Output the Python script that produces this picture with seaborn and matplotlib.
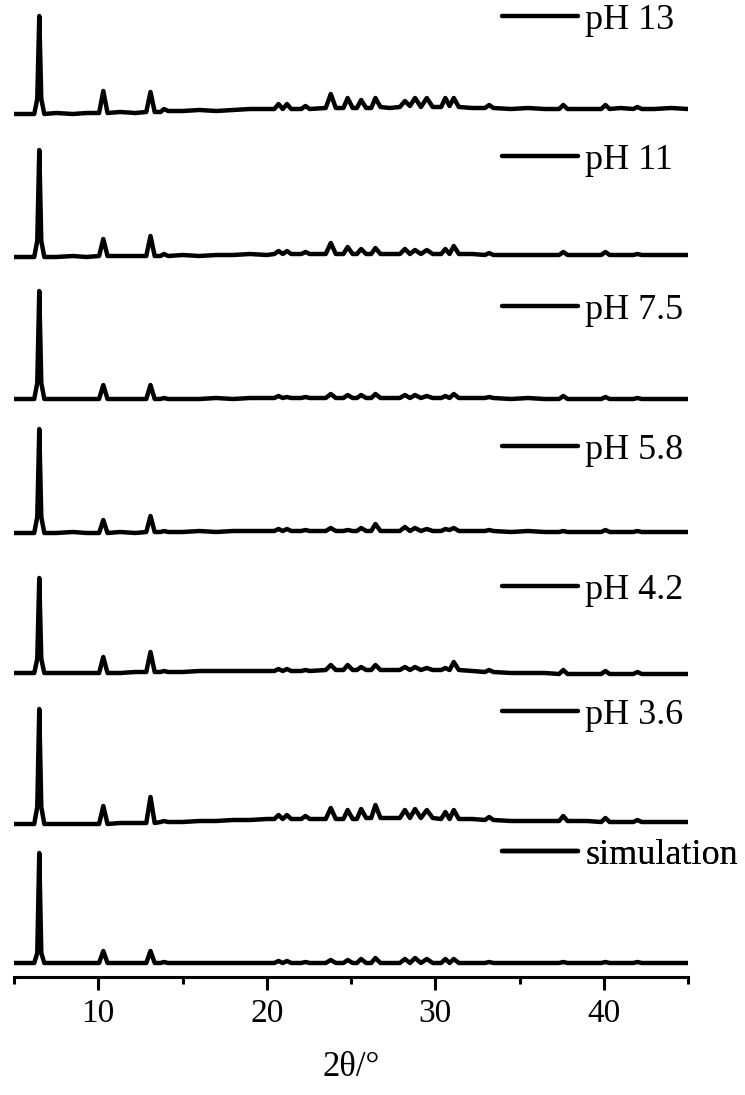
import numpy as np
import pandas as pd
import matplotlib
matplotlib.use("Agg")
import matplotlib.pyplot as plt
from matplotlib.ticker import MultipleLocator
import seaborn as sns

# 2theta vertices (shared by all traces)
two_theta = [5.0, 5.8, 6.2, 6.38, 6.5, 6.62, 6.8, 7.5, 8.5, 9.3,
             10.05, 10.3, 10.55, 11.3, 12.2, 12.85, 13.1, 13.35, 13.7, 13.9,
             14.15, 15.0, 16.0, 17.0, 18.0, 19.0, 20.0, 20.45, 20.7, 20.95,
             21.2, 21.45, 22.05, 22.3, 22.55, 23.5, 23.8, 24.1, 24.55, 24.8,
             25.1, 25.35, 25.6, 25.9, 26.2, 26.45, 26.75, 27.3, 27.9, 28.2,
             28.5, 28.8, 29.15, 29.5, 29.85, 30.35, 30.6, 30.85, 31.1, 31.4,
             32.2, 32.95, 33.2, 33.45, 34.5, 35.5, 36.5, 37.35, 37.6, 37.85,
             39.0, 39.85, 40.1, 40.35, 41.0, 41.75, 42.0, 42.25, 43.0, 44.0,
             45.0]

# intensities (a.u., above each trace's own baseline)
ph13 = [0, 0, 0, 15, 98, 15, 0, 1, 0, 1,
        1, 23, 1, 2, 1, 2, 22, 2, 2, 5,
        3, 3, 4, 3, 4, 5, 5, 5, 10, 5,
        10, 5, 5, 8, 5, 6, 20, 6, 6, 16,
        6, 6, 14, 6, 6, 16, 7, 6, 7, 13,
        8, 16, 7, 16, 7, 7, 16, 8, 16, 7,
        6, 6, 9, 6, 5, 6, 5, 5, 9, 5,
        5, 5, 9, 5, 6, 5, 7, 5, 5, 6,
        5]
ph11 = [0, 0, 0, 16, 107, 16, 0, 0, 1, 0,
        1, 18, 1, 1, 1, 1, 21, 1, 1, 3,
        1, 2, 1, 2, 2, 3, 2, 3, 6, 3,
        6, 3, 3, 5, 3, 3, 14, 3, 3, 10,
        3, 3, 8, 3, 3, 9, 3, 3, 3, 8,
        3, 7, 3, 7, 3, 3, 8, 3, 11, 3,
        3, 2, 4, 2, 2, 2, 2, 2, 5, 2,
        2, 2, 5, 2, 2, 2, 3, 2, 2, 2,
        2]
ph75 = [0, 0, 0, 16, 108, 16, 0, 0, 0, 0,
        0, 14, 0, 0, 0, 0, 14, 0, 0, 1,
        0, 0, 0, 1, 0, 1, 1, 1, 3, 1,
        2, 1, 1, 2, 1, 1, 5, 1, 1, 4,
        1, 1, 4, 1, 1, 5, 1, 1, 1, 4,
        1, 4, 1, 3, 1, 1, 3, 1, 5, 1,
        1, 1, 2, 1, 0, 1, 0, 0, 3, 0,
        0, 0, 2, 0, 0, 0, 1, 0, 0, 0,
        0]
ph58 = [0, 0, 0, 16, 104, 16, 0, 0, 1, 0,
        0, 13, 0, 1, 0, 1, 17, 1, 1, 2,
        1, 1, 2, 1, 2, 2, 2, 2, 4, 2,
        4, 2, 2, 3, 2, 2, 5, 2, 2, 3,
        2, 2, 5, 2, 2, 9, 2, 2, 2, 6,
        2, 5, 2, 4, 2, 2, 4, 3, 5, 2,
        2, 2, 3, 2, 1, 2, 1, 1, 2, 1,
        1, 1, 3, 1, 1, 1, 2, 1, 1, 1,
        1]
ph42 = [0, 0, 0, 14, 95, 14, 0, 0, 0, 0,
        0, 16, 0, 0, 1, 1, 21, 1, 1, 2,
        1, 1, 2, 2, 2, 2, 2, 2, 4, 2,
        4, 2, 2, 3, 2, 3, 8, 3, 3, 8,
        3, 3, 6, 3, 3, 8, 3, 3, 3, 6,
        3, 6, 3, 5, 3, 3, 5, 3, 11, 3,
        2, 1, 3, 1, 0, 0, 0, -1, 3, -1,
        -1, -1, 2, -1, -1, -1, 1, -1, -1, -1,
        -1]
ph36 = [0, 0, 0, 17, 115, 17, 0, 0, 0, 0,
        0, 18, 0, 1, 1, 1, 27, 1, 2, 3,
        2, 2, 3, 3, 4, 4, 5, 5, 9, 5,
        9, 5, 5, 8, 5, 5, 16, 5, 5, 14,
        5, 5, 15, 6, 6, 19, 6, 6, 6, 14,
        6, 15, 6, 14, 6, 5, 12, 5, 14, 5,
        5, 4, 7, 4, 3, 3, 3, 3, 8, 3,
        3, 2, 6, 2, 2, 2, 4, 2, 2, 2,
        2]
simulation = [0, 0, 0, 10, 110, 10, 0, 0, 0, 0,
              0, 12, 0, 0, 0, 0, 12, 0, 0, 1,
              0, 0, 0, 0, 0, 0, 0, 0, 2, 0,
              2, 0, 0, 1, 0, 0, 3, 0, 0, 3,
              0, 0, 4, 0, 0, 5, 0, 0, 0, 4,
              0, 5, 0, 4, 0, 0, 4, 0, 4, 0,
              0, 0, 1, 0, 0, 0, 0, 0, 1, 0,
              0, 0, 1, 0, 0, 0, 1, 0, 0, 0,
              0]

labels = ["pH 13", "pH 11", "pH 7.5", "pH 5.8", "pH 4.2", "pH 3.6", "simulation"]
series = [ph13, ph11, ph75, ph58, ph42, ph36, simulation]

# stacking (layout only)
offsets = [863, 720, 578, 444, 304, 153, 14]
legend_y = [957, 817, 667, 527, 387, 262, 122]

sns.set_style("ticks")
plt.rcParams["font.family"] = ["Liberation Serif", "DejaVu Serif"]
plt.rcParams["text.color"] = "black"
plt.rcParams["axes.labelcolor"] = "black"
plt.rcParams["xtick.color"] = "black"
plt.rcParams["axes.edgecolor"] = "black"

fig = plt.figure(figsize=(7.45, 10.95), dpi=100)
ax = fig.add_axes([14 / 745, 1 - 977 / 1095, 674 / 745, 977 / 1095])

for lab, y, off, ly in zip(labels, series, offsets, legend_y):
    df = pd.DataFrame({"2theta": two_theta, "I": np.array(y) + off})
    sns.lineplot(data=df, x="2theta", y="I", ax=ax, color="black",
                 linewidth=3.2, legend=False)
    line = ax.lines[-1]
    leg = ax.legend(handles=[line], labels=[lab], loc="center left",
                    bbox_to_anchor=(0.724, ly / 977), frameon=False,
                    fontsize=26, handlelength=2.1, handletextpad=0.2,
                    borderpad=0, borderaxespad=0)
    ax.add_artist(leg)

ax.set_xlim(5, 45)
ax.set_ylim(0, 977)
for s in ["left", "top", "right"]:
    ax.spines[s].set_visible(False)
ax.spines["bottom"].set_linewidth(2.2)
ax.set_yticks([])
ax.set_ylabel("")
ax.xaxis.set_major_locator(MultipleLocator(10))
ax.xaxis.set_minor_locator(MultipleLocator(5))
ax.tick_params(axis="x", which="major", length=9.5, width=2.2,
               direction="out", labelsize=24, pad=6)
ax.tick_params(axis="x", which="minor", length=5, width=2.2, direction="out")
ax.set_xlabel("2θ/°", fontsize=25, labelpad=16)

fig.savefig("out.png", dpi=100)
